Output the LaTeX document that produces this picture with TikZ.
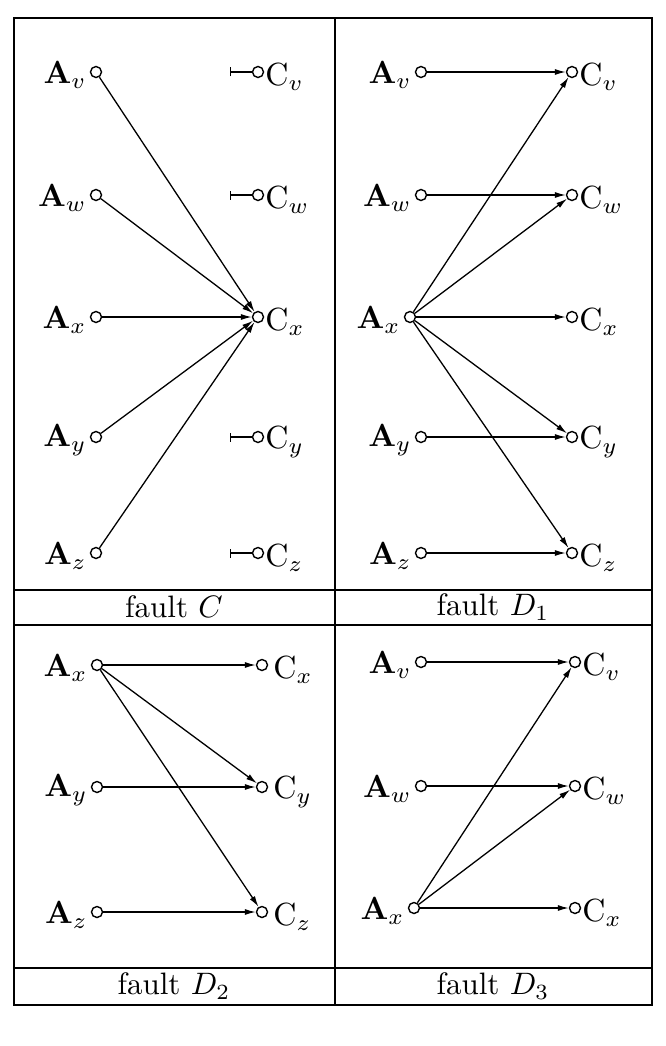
\documentclass[tikz,border=0pt]{standalone}
\usetikzlibrary{arrows.meta}
\newcommand{\bigt}[1]{\scalebox{3.2}{#1}}
\newcommand{\capt}[1]{\scalebox{3.1}{#1}}
\begin{document}
\begin{tikzpicture}[x=1pt,y=-1pt,
  v/.style={circle,draw,line width=1.4pt,inner sep=0pt,minimum size=11pt},
  lab/.style={inner sep=3pt},
  ar/.style={-{Latex[length=11pt,width=6pt]},line width=1.3pt},
  stub/.style={{Bar[width=9pt]}-,line width=1.4pt},
  captxt/.style={}]
\useasboundingbox (0,0) rectangle (666,1046);
\draw[line width=1.8pt] (14,18) rectangle (652,1005);
\draw[line width=1.8pt] (335,18) -- (335,1005);
\draw[line width=1.8pt] (14,590) -- (652,590) (14,625) -- (652,625) (14,968) -- (652,968);
\node[captxt] (c1) at (174,607) {\capt{fault $C$}};
\node[captxt] (c2) at (493,607) {\capt{fault $D_1$}};
\node[captxt] (c3) at (174,986) {\capt{fault $D_2$}};
\node[captxt] (c4) at (493,986) {\capt{fault $D_3$}};
% panel 1
\foreach \n/\y in {v/72,w/195,x/317,y/437,z/553}{
  \node[v] (pA\n) at (96,\y) {};
  \node[lab,anchor=east] (lA\n) at ([yshift=-3pt]pA\n.west) {\bigt{$\mathbf{A}_\n$}};
  \node[v] (pC\n) at (258,\y) {};
  \node[lab,anchor=west,inner sep=1pt] (lC\n) at ([yshift=-5pt]pC\n.east) {\bigt{$\mathrm{C}_\n$}};
}
\foreach \n in {v,w,y,z}{\coordinate (s\n) at ([xshift=-22pt]pC\n.west); \draw[stub] (s\n) -- (pC\n);}
\foreach \n in {v,w,x,y,z}{\draw[ar] (pA\n) -- (pCx);}
% panel 2
\foreach \n/\y/\ax in {v/72/421,w/195/421,x/317/410,y/437/421,z/553/421}{
  \node[v] (qA\n) at (\ax,\y) {};
  \node[lab,anchor=east] (mA\n) at ([yshift=-3pt]qA\n.west) {\bigt{$\mathbf{A}_\n$}};
  \node[v] (qC\n) at (572,\y) {};
  \node[lab,anchor=west,inner sep=1pt] (mC\n) at ([yshift=-5pt]qC\n.east) {\bigt{$\mathrm{C}_\n$}};
}
\draw[ar] (qAv) -- (qCv); \draw[ar] (qAw) -- (qCw);
\draw[ar] (qAy) -- (qCy); \draw[ar] (qAz) -- (qCz);
\foreach \n in {v,w,x,y,z}{\draw[ar] (qAx) -- (qC\n);}
% panel 3
\foreach \n/\y in {x/665,y/787,z/912}{
  \node[v] (rA\n) at (97,\y) {};
  \node[lab,anchor=east] (nA\n) at ([yshift=-3pt]rA\n.west) {\bigt{$\mathbf{A}_\n$}};
  \node[v] (rC\n) at (262,\y) {};
  \node[lab,anchor=west] (nC\n) at ([xshift=2pt,yshift=-5pt]rC\n.east) {\bigt{$\mathrm{C}_\n$}};
}
\draw[ar] (rAy) -- (rCy); \draw[ar] (rAz) -- (rCz);
\foreach \n in {x,y,z}{\draw[ar] (rAx) -- (rC\n);}
% panel 4
\foreach \n/\y/\ax in {v/662/421,w/786/421,x/908/414}{
  \node[v] (tA\n) at (\ax,\y) {};
  \node[lab,anchor=east] (oA\n) at ([yshift=-3pt]tA\n.west) {\bigt{$\mathbf{A}_\n$}};
  \node[v] (tC\n) at (575,\y) {};
  \node[lab,anchor=west,inner sep=1pt] (oC\n) at ([yshift=-5pt]tC\n.east) {\bigt{$\mathrm{C}_\n$}};
}
\draw[ar] (tAv) -- (tCv); \draw[ar] (tAw) -- (tCw);
\foreach \n in {v,w,x}{\draw[ar] (tAx) -- (tC\n);}
\end{tikzpicture}
\end{document}
